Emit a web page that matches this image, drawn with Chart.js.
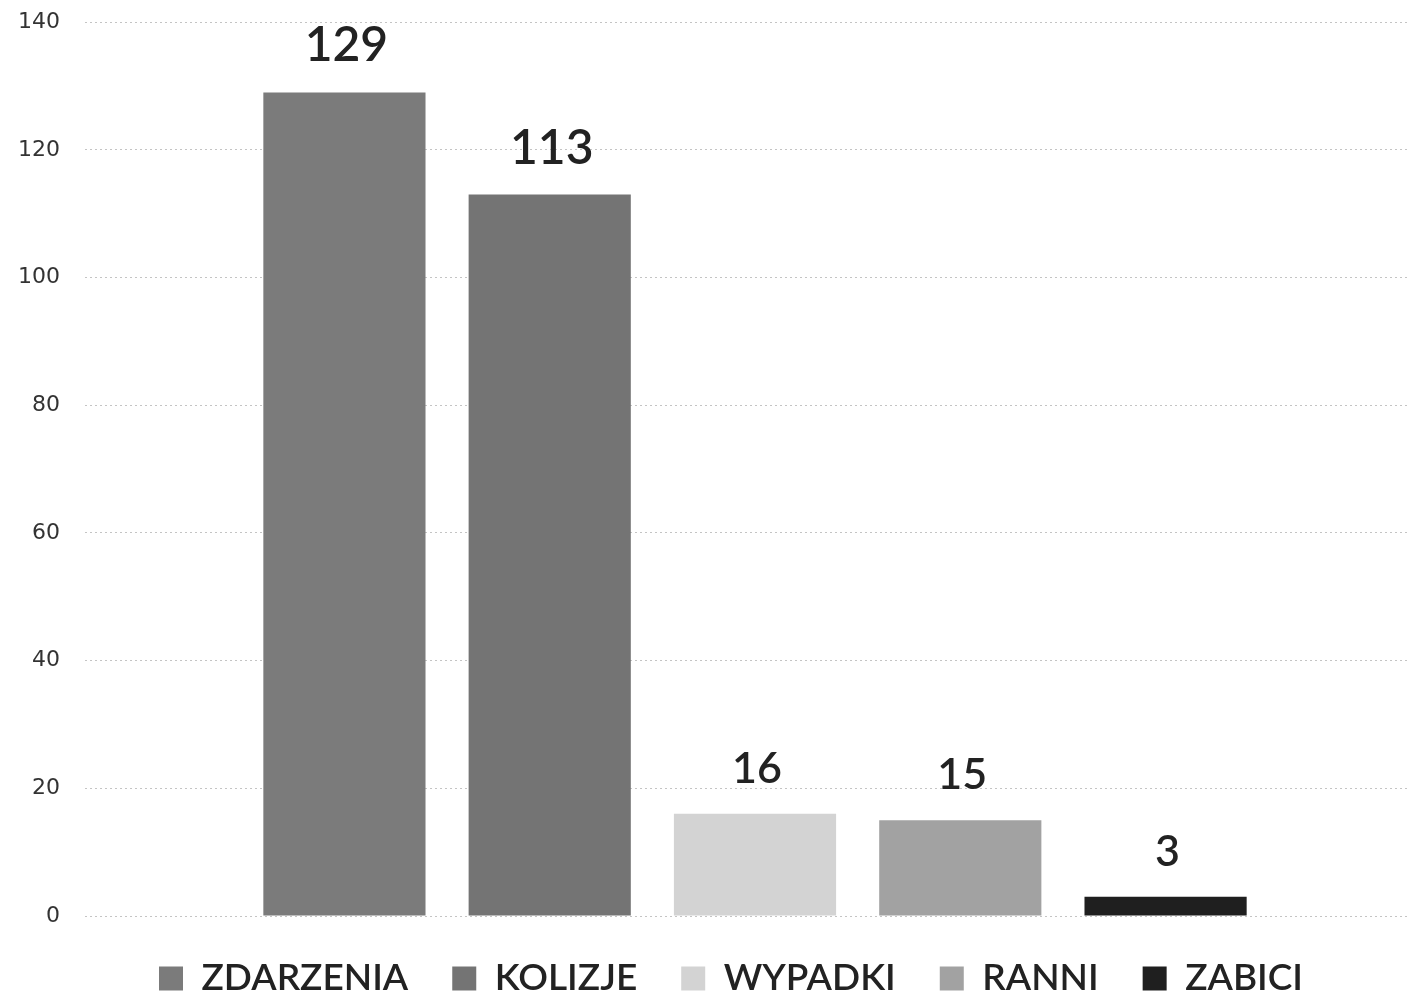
<!DOCTYPE html>
<html>
<head>
<meta charset="utf-8">
<script src="https://cdn.jsdelivr.net/npm/chart.js@4.4.1/dist/chart.umd.min.js"></script>
<style>
  html, body { margin: 0; padding: 0; background: #fff; overflow: hidden; }
  #wrap { position: relative; top: -16px; width: 1462px; height: 1023px; }
</style>
</head>
<body>
<div id="wrap"><canvas id="chart"></canvas></div>
<script>
// dane z wykresu
const categories = [""];
const seriesNames = ["ZDARZENIA", "KOLIZJE", "WYPADKI", "RANNI", "ZABICI"];
const seriesValues = [129, 113, 16, 15, 3];
const yTicks = [0, 20, 40, 60, 80, 100, 120, 140];

// wygląd
const seriesColors = ["#7b7b7b", "#747474", "#d3d3d3", "#a2a2a2", "#1f1f1f"];
const labelSizes = [48, 48, 43, 43, 43];

const datasets = seriesNames.map(function (name, i) {
  return {
    label: name,
    data: [seriesValues[i]],
    backgroundColor: seriesColors[i],
    borderWidth: 0,
    categoryPercentage: 0.766,
    barPercentage: 0.79
  };
});

// etykiety wartości nad słupkami
const valueLabels = {
  id: "valueLabels",
  afterDatasetsDraw: function (chart) {
    const ctx = chart.ctx;
    ctx.save();
    ctx.fillStyle = "#222";
    ctx.textAlign = "center";
    ctx.textBaseline = "alphabetic";
    chart.data.datasets.forEach(function (ds, i) {
      const meta = chart.getDatasetMeta(i);
      meta.data.forEach(function (bar, j) {
        ctx.font = "600 " + labelSizes[i] + "px Lato";
        ctx.fillText(String(ds.data[j]), bar.x + 2, bar.y - 31);
      });
    });
    ctx.restore();
  }
};

new Chart(document.getElementById("chart").getContext("2d"), {
  type: "bar",
  data: { labels: categories, datasets: datasets },
  options: {
    responsive: true,
    maintainAspectRatio: false,
    animation: false,
    layout: { padding: { top: 6, left: 0, right: 0, bottom: 0 } },
    plugins: {
      tooltip: { enabled: false },
      legend: {
        position: "bottom",
        labels: {
          font: { family: "Lato", size: 37, weight: "600" },
          color: "#222",
          boxWidth: 24,
          boxHeight: 24,
          padding: 44
        }
      }
    },
    scales: {
      x: { display: false },
      y: {
        min: 0,
        max: 140,
        afterBuildTicks: function (axis) {
          axis.ticks = yTicks.map(function (v) { return { value: v }; });
        },
        afterFit: function (axis) { axis.width = 85; },
        border: { display: false, dash: [2, 3] },
        grid: { color: "#c4c4c4", drawTicks: false },
        ticks: {
          padding: 25,
          color: "#333",
          font: { family: "DejaVu Sans", size: 22 }
        }
      },
      y2: {
        position: "right",
        display: true,
        afterFit: function (axis) { axis.width = 37; },
        grid: { display: false },
        border: { display: false },
        ticks: { display: false }
      }
    }
  },
  plugins: [valueLabels]
});
</script>
</body>
</html>
